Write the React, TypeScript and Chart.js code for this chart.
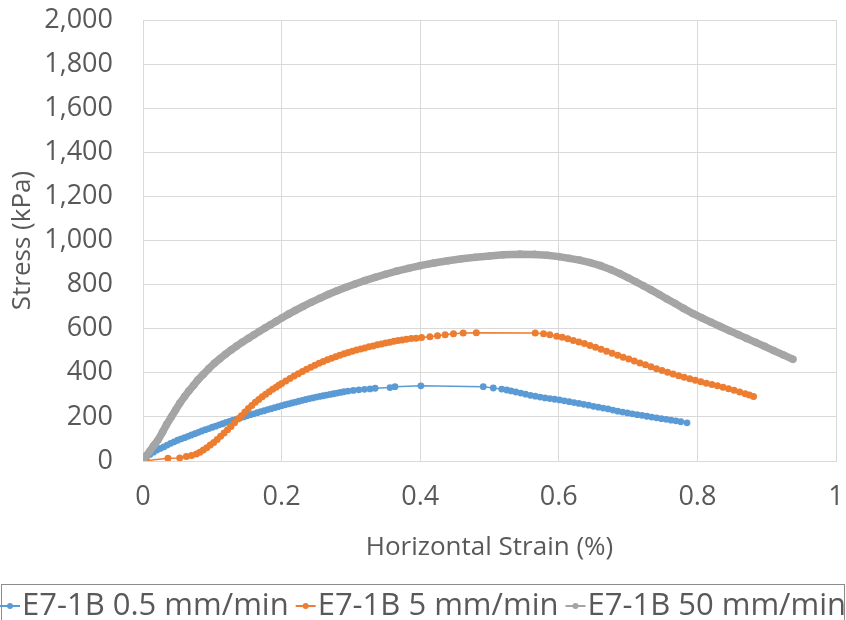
import React, { useEffect, useRef } from "react";
import { Chart, registerables } from "chart.js";

Chart.register(...registerables);

// Horizontal strain (%) / stress (kPa) pairs
const series05: [number, number][] = [
  [0, 0], [0.005, 15], [0.01, 30], [0.015, 40], [0.02, 50], [0.025, 57], [0.03, 64], [0.035, 72],
  [0.04, 80], [0.045, 87], [0.05, 94], [0.055, 100], [0.06, 106], [0.065, 112], [0.07, 118],
  [0.075, 124], [0.08, 130], [0.085, 136], [0.09, 142], [0.095, 147], [0.1, 153], [0.105, 158],
  [0.11, 164], [0.115, 169], [0.12, 175], [0.125, 180], [0.13, 185], [0.135, 190], [0.14, 195],
  [0.145, 200], [0.15, 205], [0.155, 210], [0.16, 214], [0.165, 219], [0.17, 224], [0.175, 228],
  [0.18, 233], [0.185, 237], [0.19, 242], [0.195, 246], [0.2, 251], [0.205, 255], [0.21, 259],
  [0.215, 263], [0.22, 267], [0.225, 271], [0.23, 275], [0.235, 279], [0.24, 283], [0.245, 286],
  [0.25, 290], [0.255, 293], [0.26, 296], [0.265, 299], [0.27, 302], [0.275, 305], [0.28, 308],
  [0.285, 311], [0.29, 314], [0.296, 317], [0.3035, 320], [0.3115, 323], [0.3196, 325],
  [0.3276, 327], [0.335, 330], [0.3564, 333], [0.3636, 337], [0.401, 341], [0.491, 337],
  [0.5055, 331], [0.5175, 326], [0.5248, 322], [0.531, 318], [0.538, 313], [0.545, 308],
  [0.552, 303], [0.559, 298], [0.566, 294], [0.573, 290], [0.58, 286], [0.587, 283], [0.594, 280],
  [0.601, 277], [0.608, 273], [0.615, 269], [0.622, 265], [0.629, 261], [0.636, 257], [0.643, 253],
  [0.65, 248], [0.657, 244], [0.664, 240], [0.671, 236], [0.678, 231], [0.685, 226], [0.692, 222],
  [0.699, 218], [0.706, 214], [0.713, 210], [0.72, 207], [0.727, 203], [0.734, 199], [0.741, 196],
  [0.748, 192], [0.755, 189], [0.762, 185], [0.769, 182], [0.776, 178], [0.785, 173],
];

const series5: [number, number][] = [
  [0, 0], [0.036, 12], [0.053, 14], [0.0625, 20], [0.07, 25], [0.077, 32], [0.082, 40], [0.087, 50],
  [0.092, 60], [0.097, 72], [0.102, 84], [0.107, 98], [0.112, 112], [0.117, 127], [0.122, 142],
  [0.127, 157], [0.132, 173], [0.137, 190], [0.142, 205], [0.147, 222], [0.152, 238], [0.157, 252],
  [0.162, 266], [0.167, 279], [0.172, 291], [0.177, 303], [0.182, 314], [0.187, 325], [0.192, 335],
  [0.196, 343], [0.2, 351], [0.206, 363], [0.212, 374], [0.218, 385], [0.224, 396], [0.23, 406],
  [0.236, 416], [0.242, 425], [0.248, 434], [0.254, 443], [0.26, 451], [0.266, 459], [0.272, 466],
  [0.278, 473], [0.284, 480], [0.29, 486], [0.296, 492], [0.302, 498], [0.308, 503], [0.314, 508],
  [0.32, 513], [0.326, 518], [0.332, 522], [0.338, 527], [0.344, 531], [0.35, 535], [0.356, 539],
  [0.362, 543], [0.368, 546], [0.374, 549], [0.38, 552], [0.387, 555], [0.394, 557], [0.402, 560],
  [0.414, 564], [0.425, 568], [0.436, 573], [0.448, 577], [0.462, 580], [0.481, 582], [0.566, 580],
  [0.578, 577], [0.587, 573], [0.597, 566], [0.605, 561], [0.613, 554], [0.621, 547], [0.629, 540],
  [0.637, 533], [0.645, 524], [0.653, 516], [0.661, 507], [0.669, 498], [0.677, 489], [0.685, 480],
  [0.693, 471], [0.701, 463], [0.709, 454], [0.717, 445], [0.725, 436], [0.733, 427], [0.741, 418],
  [0.749, 410], [0.757, 402], [0.765, 394], [0.773, 387], [0.781, 380], [0.789, 373], [0.797, 366],
  [0.805, 359], [0.813, 353], [0.821, 347], [0.829, 341], [0.837, 335], [0.845, 328], [0.853, 321],
  [0.861, 313], [0.869, 305], [0.875, 299], [0.881, 292],
];

const series50: [number, number][] = [
  [0, 5], [0.005, 25], [0.01, 45], [0.015, 68], [0.0216, 95], [0.028, 130], [0.034, 165],
  [0.041, 201], [0.047, 231], [0.053, 262], [0.06, 292], [0.066, 317], [0.073, 343], [0.079, 367],
  [0.087, 393], [0.095, 419], [0.103, 443], [0.111, 464], [0.119, 484], [0.127, 503], [0.135, 521],
  [0.143, 538], [0.152, 556], [0.16, 572], [0.168, 588], [0.176, 603], [0.184, 618], [0.192, 633],
  [0.2, 648], [0.21, 666], [0.22, 683], [0.231, 701], [0.243, 720], [0.255, 738], [0.267, 755],
  [0.28, 772], [0.293, 788], [0.306, 803], [0.32, 818], [0.335, 833], [0.35, 847], [0.366, 861],
  [0.383, 874], [0.4, 886], [0.42, 898], [0.44, 908], [0.46, 917], [0.48, 924], [0.5, 930],
  [0.52, 935], [0.544, 938], [0.565, 937], [0.583, 933], [0.6, 927], [0.615, 919], [0.63, 911],
  [0.645, 900], [0.66, 886], [0.675, 868], [0.688, 850], [0.7, 831], [0.711, 813], [0.722, 795],
  [0.733, 776], [0.745, 755], [0.756, 735], [0.768, 714], [0.78, 692], [0.794, 668], [0.807, 648],
  [0.82, 629], [0.833, 610], [0.846, 591], [0.859, 573], [0.871, 556], [0.884, 538], [0.897, 520],
  [0.91, 501], [0.924, 481], [0.938, 461],
];

const seriesLabels = ["E7-1B 0.5 mm/min", "E7-1B 5 mm/min", "E7-1B 50 mm/min"];
const seriesColors = ["#5B9BD5", "#ED7D31", "#A5A5A5"];
const xTitle = "Horizontal Strain (%)";
const yTitle = "Stress (kPa)";

const FONT = "'Open Sans', sans-serif";
const TEXT = "#595959";
const GRID = "#D9D9D9";

const boxLegend = {
  id: "boxLegend",
  afterDraw(chart: any) {
    const ctx = chart.ctx as CanvasRenderingContext2D;
    ctx.save();
    ctx.font = `31px ${FONT}`;
    const items = chart.data.datasets.map((ds: any) => ({
      label: ds.label as string,
      color: ds.borderColor as string,
      w: ctx.measureText(ds.label).width,
    }));
    const markerW = 20;
    const markerGap = 2;
    const itemGap = 7;
    const total =
      items.reduce((s: number, it: any) => s + markerW + markerGap + it.w, 0) +
      itemGap * (items.length - 1);
    let x = (chart.width - total) / 2;
    const yc = 606;
    ctx.strokeStyle = "#8C8C8C";
    ctx.lineWidth = 1;
    ctx.strokeRect(1.5, 584.5, chart.width - 3, 60);
    for (const it of items) {
      ctx.strokeStyle = it.color;
      ctx.lineWidth = 2;
      ctx.beginPath();
      ctx.moveTo(x, yc);
      ctx.lineTo(x + markerW, yc);
      ctx.stroke();
      ctx.fillStyle = it.color;
      ctx.beginPath();
      ctx.arc(x + markerW / 2, yc, 3, 0, Math.PI * 2);
      ctx.fill();
      ctx.fillStyle = TEXT;
      ctx.textBaseline = "middle";
      ctx.textAlign = "left";
      ctx.fillText(it.label, x + markerW + markerGap, yc);
      x += markerW + markerGap + it.w + itemGap;
    }
    ctx.restore();
  },
};

export default function App() {
  const ref = useRef<HTMLCanvasElement>(null);
  useEffect(() => {
    if (!ref.current) return;
    const toPts = (arr: [number, number][]) => arr.map(([x, y]) => ({ x, y }));
    const chart = new Chart(ref.current, {
      type: "scatter",
      data: {
        datasets: [
          {
            label: seriesLabels[0],
            data: toPts(series05),
            showLine: true,
            borderColor: seriesColors[0],
            backgroundColor: seriesColors[0],
            borderWidth: 1.5,
            pointRadius: 3.4,
            pointBorderWidth: 0,
            pointBackgroundColor: seriesColors[0],
            order: 3,
          },
          {
            label: seriesLabels[1],
            data: toPts(series5),
            showLine: true,
            borderColor: seriesColors[1],
            backgroundColor: seriesColors[1],
            borderWidth: 1.5,
            pointRadius: 3.5,
            pointBorderWidth: 0,
            pointBackgroundColor: seriesColors[1],
            order: 2,
          },
          {
            label: seriesLabels[2],
            data: toPts(series50),
            showLine: true,
            borderColor: seriesColors[2],
            backgroundColor: seriesColors[2],
            borderWidth: 7.5,
            pointRadius: 3.8,
            pointBorderWidth: 0,
            pointBackgroundColor: seriesColors[2],
            order: 1,
          },
        ],
      },
      options: {
        animation: false,
        responsive: false,
        devicePixelRatio: 1,
        layout: { padding: { top: 20, right: 10, bottom: 50, left: 0 } },
        plugins: { legend: { display: false }, tooltip: { enabled: false } },
        scales: {
          x: {
            type: "linear",
            min: 0,
            max: 1,
            afterFit: (s: any) => {
              s.height = 109;
              s.paddingLeft = 0;
              s.paddingRight = 0;
              s.paddingTop = 0;
              s.paddingBottom = 0;
            },
            ticks: {
              stepSize: 0.2,
              padding: 20,
              color: TEXT,
              font: { family: FONT, size: 27 },
              callback: (v: any) => String(Number(Number(v).toFixed(1))),
            },
            grid: { color: GRID, drawTicks: false, lineWidth: 1 },
            border: { color: GRID },
            title: {
              display: true,
              text: xTitle,
              color: TEXT,
              font: { family: FONT, size: 26 },
              padding: { top: 0, bottom: 7 },
            },
          },
          y: {
            type: "linear",
            min: 0,
            max: 2000,
            afterFit: (s: any) => {
              s.width = 143;
              s.paddingLeft = 0;
              s.paddingRight = 0;
              s.paddingTop = 0;
              s.paddingBottom = 0;
            },
            ticks: {
              stepSize: 200,
              padding: 30,
              color: TEXT,
              font: { family: FONT, size: 27 },
              callback: (v: any) => Number(v).toLocaleString("en-US"),
            },
            grid: { color: GRID, drawTicks: false, lineWidth: 1 },
            border: { color: GRID },
            title: {
              display: true,
              text: yTitle,
              color: TEXT,
              font: { family: FONT, size: 26 },
              padding: { top: 7, bottom: 0 },
            },
          },
        },
      },
      plugins: [boxLegend],
    });
    return () => chart.destroy();
  }, []);
  return (
    <div style={{ position: "absolute", left: 0, top: 0, width: 846, height: 620, background: "#fff" }}>
      <canvas ref={ref} width={846} height={620} />
    </div>
  );
}
